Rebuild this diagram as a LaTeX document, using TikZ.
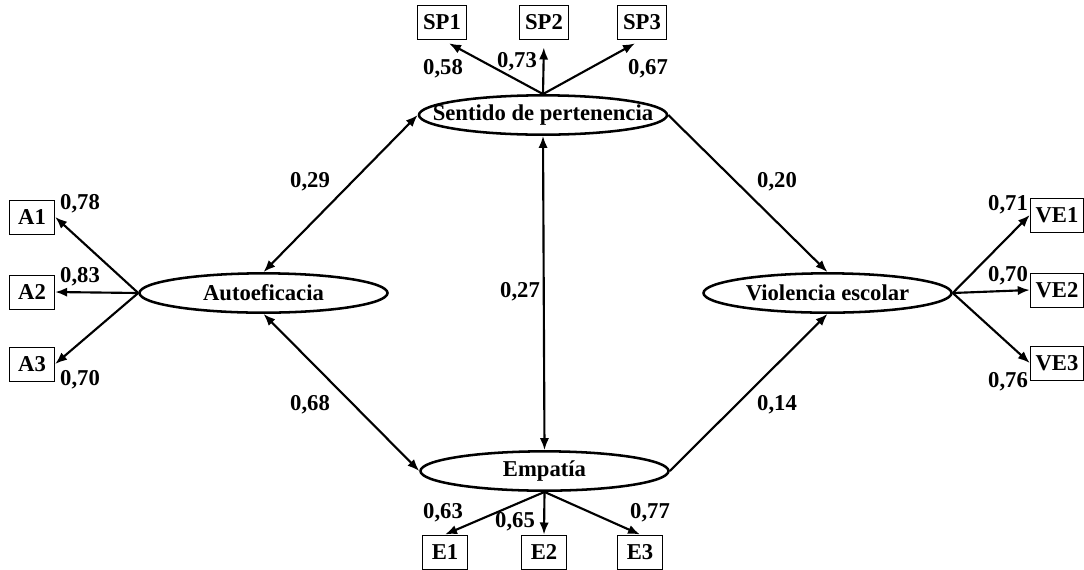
\documentclass[tikz,border=0pt]{standalone}
\usepackage{fontspec}
\setmainfont{Liberation Serif}
\usetikzlibrary{arrows.meta,shapes.geometric}
\begin{document}
\begin{tikzpicture}[x=0.75pt,y=-0.75pt,
  font=\fontsize{17}{19}\selectfont\bfseries,
  lat/.style={ellipse,draw,line width=1.9pt,minimum width=186pt,minimum height=29.5pt,inner sep=0pt},
  obs/.style={rectangle,draw,line width=0.75pt,minimum width=34pt,minimum height=25.5pt,inner xsep=4pt,inner ysep=0pt},
  arr/.style={line width=1.6pt,-{Latex[length=9pt,width=7pt]}},
  darr/.style={line width=1.6pt,{Latex[length=9pt,width=7pt]}-{Latex[length=9pt,width=7pt]}},
  lbl/.style={inner sep=0pt}]
\useasboundingbox (0,0) rectangle (1084,569);

% latent variables
\node[lat] (SP) at (543,115) {\makebox[0pt]{Sentido de pertenencia}};
\node[lat] (AU) at (263.5,293) {\makebox[0pt]{Autoeficacia}};
\node[lat] (VE) at (827.5,293) {\makebox[0pt]{Violencia escolar}};
\node[lat] (EM) at (544.5,471) {\makebox[0pt]{Empatía}};

% observed variables
\node[obs] (SP1) at (442,22) {SP1};
\node[obs] (SP2) at (544,22) {SP2};
\node[obs] (SP3) at (642,22) {SP3};
\node[obs] (A1) at (32,217) {A1};
\node[obs] (A2) at (32,292) {A2};
\node[obs] (A3) at (32,364) {A3};
\node[obs] (VE1) at (1057,215) {VE1};
\node[obs] (VE2) at (1057,290) {VE2};
\node[obs] (VE3) at (1057,363) {VE3};
\node[obs] (E1) at (445,552) {E1};
\node[obs] (E2) at (544,552) {E2};
\node[obs] (E3) at (640,552) {E3};

% measurement arrows
\draw[arr,shorten >=6pt] (SP.north) -- (SP1.south);
\draw[arr,shorten >=6pt] (SP.north) -- (SP2.south);
\draw[arr,shorten >=6pt] (SP.north) -- (SP3.south);
\draw[arr] (AU.west) -- (A1.east);
\draw[arr] (AU.west) -- (A2.east);
\draw[arr] (AU.west) -- (A3.east);
\draw[arr] (VE.east) -- (VE1.west);
\draw[arr] (VE.east) -- (VE2.west);
\draw[arr] (VE.east) -- (VE3.west);
\draw[arr] (EM.south) -- (E1.north);
\draw[arr] (EM.south) -- (E2.north);
\draw[arr] (EM.south) -- (E3.north);

% structural arrows
\draw[darr] (AU.north) -- (SP.west);
\draw[darr] (AU.south) -- (EM.west);
\draw[darr] (SP.south) -- (EM.north);
\draw[arr] (SP.east) -- (VE.north);
\draw[arr] (EM.east) -- (VE.south);

% labels
\node[lbl] (l58) at (443,69) {0,58};
\node[lbl] (l73) at (517,62) {0,73};
\node[lbl] (l67) at (648,69) {0,67};
\node[lbl] (l78) at (80,204) {0,78};
\node[lbl] (l83) at (80,277) {0,83};
\node[lbl] (l70a) at (80,380) {0,70};
\node[lbl] (l71) at (1008,205) {0,71};
\node[lbl] (l70b) at (1008,276) {0,70};
\node[lbl] (l76) at (1008,382) {0,76};
\node[lbl] (l63) at (443,513) {0,63};
\node[lbl] (l65) at (515,522) {0,65};
\node[lbl] (l77) at (650,513) {0,77};
\node[lbl] (l29) at (310,182) {0,29};
\node[lbl] (l68) at (310,405) {0,68};
\node[lbl] (l27) at (520,292) {0,27};
\node[lbl] (l20) at (777,182) {0,20};
\node[lbl] (l14) at (777,405) {0,14};
\end{tikzpicture}
\end{document}
